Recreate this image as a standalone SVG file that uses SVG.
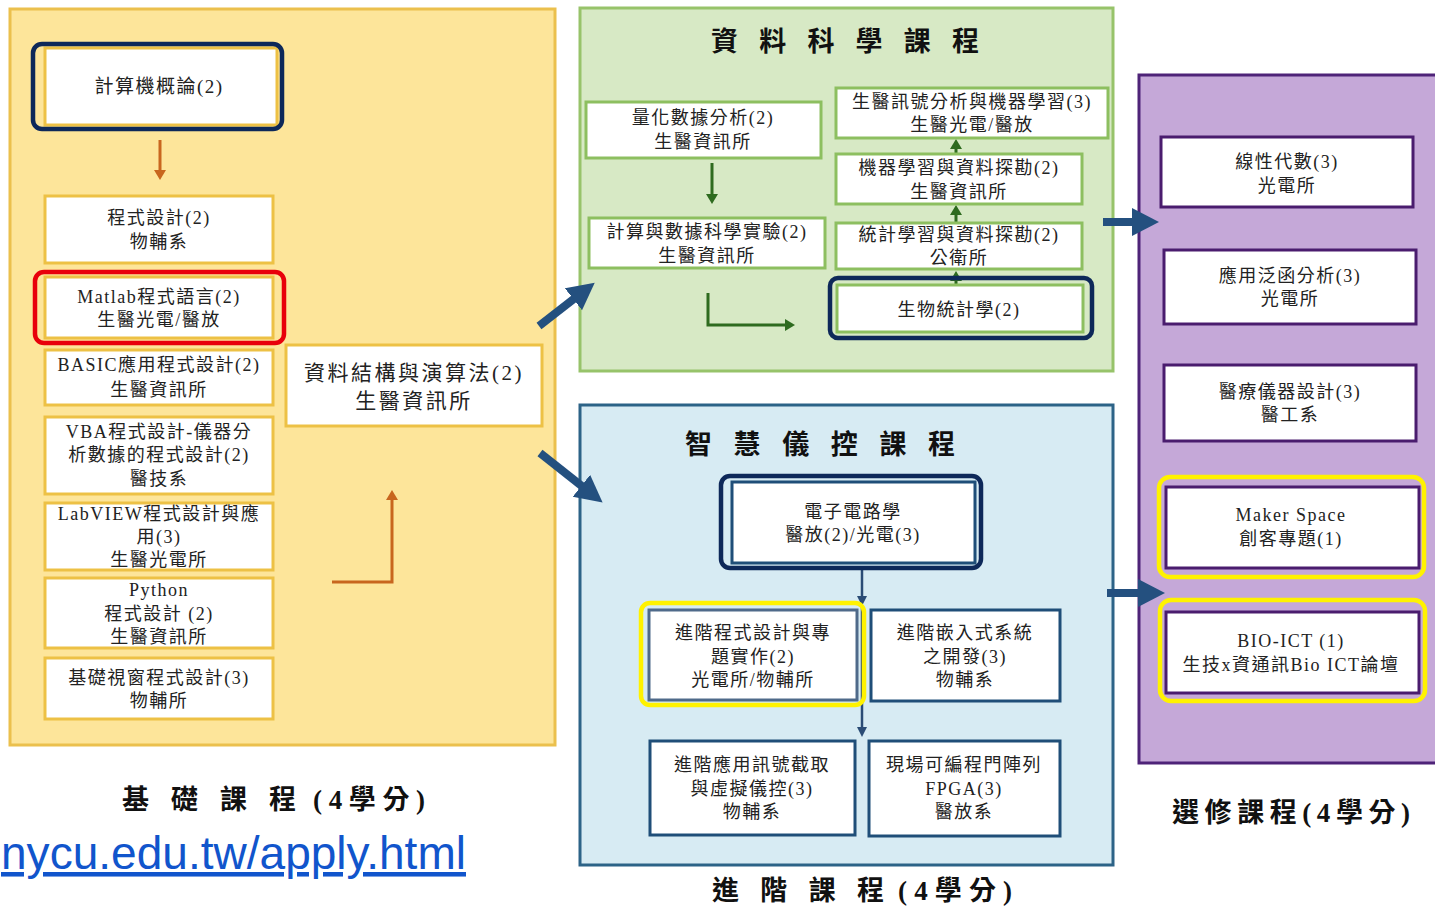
<svg xmlns="http://www.w3.org/2000/svg" width="1435" height="907" viewBox="0 0 1435 907">
<defs>
<style>
.t{font-family:"Liberation Serif","Noto Sans CJK TC",serif;font-size:18px;fill:#222;text-anchor:middle;dominant-baseline:central;letter-spacing:1.5px}
.t2{font-size:21px;letter-spacing:2.5px}
.title{font-family:"Liberation Serif","Noto Sans CJK TC",serif;font-size:27px;font-weight:bold;fill:#111;dominant-baseline:central}
.ny{fill:#fff;stroke:#EDC145;stroke-width:3}
.ng{fill:#fff;stroke:#8DBF60;stroke-width:3}
.nb{fill:#fff;stroke:#1F4E78;stroke-width:3}
.np{fill:#fff;stroke:#4A1C6E;stroke-width:3}
.hnavy{fill:none;stroke:#0D2859;stroke-width:4.5}
.hred{fill:none;stroke:#E8000B;stroke-width:4.5}
.hyel{fill:none;stroke:#FFF200;stroke-width:4.5}
.big{stroke:#24507F;stroke-width:8;fill:none}
.org{stroke:#C8661E;stroke-width:3;fill:none}
.grn{stroke:#2E6B1F;stroke-width:3;fill:none}
.nvy{stroke:#2B4C75;stroke-width:2.5;fill:none}
</style>
<marker id="mBig" markerUnits="userSpaceOnUse" markerWidth="30" markerHeight="30" refX="2" refY="14" orient="auto"><path d="M0,0 L27,14 L0,28 z" fill="#24507F"/></marker>
<marker id="mOrg" markerUnits="userSpaceOnUse" markerWidth="14" markerHeight="14" refX="1" refY="6" orient="auto"><path d="M0,0 L10,6 L0,12 z" fill="#C8661E"/></marker>
<marker id="mGrn" markerUnits="userSpaceOnUse" markerWidth="14" markerHeight="14" refX="1" refY="6" orient="auto"><path d="M0,0 L10,6 L0,12 z" fill="#2E6B1F"/></marker>
<marker id="mNvy" markerUnits="userSpaceOnUse" markerWidth="14" markerHeight="14" refX="1" refY="5" orient="auto"><path d="M0,0 L10,5 L0,10 z" fill="#2B4C75"/></marker>
</defs>
<rect width="1435" height="907" fill="#fff"/>

<!-- panels -->
<g id="panels">
<rect x="10" y="9" width="545" height="736" fill="#FDE59A" stroke="#EBC04D" stroke-width="3"/>
<rect x="580" y="8" width="533" height="363" fill="#D7E9C5" stroke="#97C36A" stroke-width="3"/>
<rect x="580" y="405" width="533" height="460" fill="#D7EBF3" stroke="#2C6387" stroke-width="3"/>
<rect x="1139" y="75" width="310" height="688" fill="#C5A8D8" stroke="#4E2378" stroke-width="3"/>
<text class="title" x="845" y="42" text-anchor="middle" textLength="268" lengthAdjust="spacing">資 料 科 學 課 程</text>
<text class="title" x="820" y="445" text-anchor="middle" textLength="270" lengthAdjust="spacing">智 慧 儀 控 課 程</text>
<text class="title" y="800"><tspan x="122" textLength="174" lengthAdjust="spacing">基 礎 課 程</tspan><tspan x="313" textLength="112" lengthAdjust="spacing">(4學分)</tspan></text>
<text class="title" y="891"><tspan x="712" textLength="172" lengthAdjust="spacing">進 階 課 程</tspan><tspan x="898" textLength="114" lengthAdjust="spacing">(4學分)</tspan></text>
<text class="title" x="1291" y="813" text-anchor="middle" textLength="238" lengthAdjust="spacing">選修課程(4學分)</text>
<text x="1" y="869" font-family="Liberation Sans, Arial, sans-serif" font-size="45.5" fill="#1155CC" text-decoration="underline" textLength="465" lengthAdjust="spacingAndGlyphs">nycu.edu.tw/apply.html</text>
</g>

<!-- connectors -->
<g id="connectors">
<path class="org" d="M160,140 V171" marker-end="url(#mOrg)"/>
<path class="org" d="M332,582 H392 V499" marker-end="url(#mOrg)"/>
<path class="grn" d="M712,163 V195" marker-end="url(#mGrn)"/>
<path class="grn" d="M708,293 V325 H786" marker-end="url(#mGrn)"/>
<path class="grn" d="M956,286 V280" marker-end="url(#mGrn)"/>
<path class="grn" d="M956,223 V214" marker-end="url(#mGrn)"/>
<path class="grn" d="M956,154 V148" marker-end="url(#mGrn)"/>
<path class="nvy" d="M862,567 V597" marker-end="url(#mNvy)"/>
<path class="nvy" d="M862,606 V728" marker-end="url(#mNvy)"/>
<path class="big" d="M539,326 L575,298" marker-end="url(#mBig)"/>
<path class="big" d="M540,453 L583,487" marker-end="url(#mBig)"/>
<path class="big" d="M1103,222 H1134" marker-end="url(#mBig)"/>
<path class="big" d="M1107,593 H1140" marker-end="url(#mBig)"/>
</g>

<!-- basic course nodes -->
<g id="n-computer">
<rect class="ny" x="45" y="48" width="232" height="77"/>
<rect class="hnavy" x="33" y="44" width="249" height="85" rx="9"/>
<text class="t" x="159" y="86" style="font-size:19px">計算機概論(2)</text>
</g>
<g id="n-prog">
<rect class="ny" x="45" y="196" width="228" height="67"/>
<text class="t" x="159" y="218">程式設計(2)</text>
<text class="t" x="159" y="242">物輔系</text>
</g>
<g id="n-matlab">
<rect class="ny" x="45" y="277" width="228" height="61"/>
<rect class="hred" x="35" y="272" width="249" height="71" rx="9"/>
<text class="t" x="159" y="297">Matlab程式語言(2)</text>
<text class="t" x="159" y="320">生醫光電/醫放</text>
</g>
<g id="n-basic">
<rect class="ny" x="45" y="350" width="228" height="55"/>
<text class="t" x="159" y="365">BASIC應用程式設計(2)</text>
<text class="t" x="159" y="390">生醫資訊所</text>
</g>
<g id="n-vba">
<rect class="ny" x="45" y="417" width="228" height="77"/>
<text class="t" x="159" y="432">VBA程式設計-儀器分</text>
<text class="t" x="159" y="455">析數據的程式設計(2)</text>
<text class="t" x="159" y="479">醫技系</text>
</g>
<g id="n-labview">
<rect class="ny" x="45" y="503" width="228" height="67"/>
<text class="t" x="159" y="514">LabVIEW程式設計與應</text>
<text class="t" x="159" y="537">用(3)</text>
<text class="t" x="159" y="560">生醫光電所</text>
</g>
<g id="n-python">
<rect class="ny" x="45" y="578" width="228" height="70"/>
<text class="t" x="159" y="590">Python</text>
<text class="t" x="159" y="614">程式設計 (2)</text>
<text class="t" x="159" y="637">生醫資訊所</text>
</g>
<g id="n-window">
<rect class="ny" x="45" y="658" width="228" height="61"/>
<text class="t" x="159" y="678">基礎視窗程式設計(3)</text>
<text class="t" x="159" y="701">物輔所</text>
</g>
<g id="n-ds">
<rect class="ny" x="286" y="345" width="256" height="81"/>
<text class="t t2" x="414" y="373">資料結構與演算法(2)</text>
<text class="t t2" x="414" y="401">生醫資訊所</text>
</g>

<!-- data science nodes -->
<g id="n-quant">
<rect class="ng" x="586" y="102" width="235" height="56"/>
<text class="t" x="703" y="118">量化數據分析(2)</text>
<text class="t" x="703" y="142">生醫資訊所</text>
</g>
<g id="n-compexp">
<rect class="ng" x="589" y="218" width="236" height="50"/>
<text class="t" x="707" y="232">計算與數據科學實驗(2)</text>
<text class="t" x="707" y="256">生醫資訊所</text>
</g>
<g id="n-signal">
<rect class="ng" x="836" y="88" width="272" height="50"/>
<text class="t" x="972" y="102">生醫訊號分析與機器學習(3)</text>
<text class="t" x="972" y="125">生醫光電/醫放</text>
</g>
<g id="n-ml">
<rect class="ng" x="836" y="154" width="246" height="50"/>
<text class="t" x="959" y="168">機器學習與資料探勘(2)</text>
<text class="t" x="959" y="192">生醫資訊所</text>
</g>
<g id="n-stat">
<rect class="ng" x="836" y="223" width="246" height="46"/>
<text class="t" x="959" y="235">統計學習與資料探勘(2)</text>
<text class="t" x="959" y="258">公衛所</text>
</g>
<g id="n-biostat">
<rect class="ng" x="837" y="285" width="246" height="47"/>
<rect class="hnavy" x="830" y="278" width="262" height="60" rx="8"/>
<text class="t" x="959" y="310">生物統計學(2)</text>
</g>

<!-- smart instrument nodes -->
<g id="n-circuit">
<rect class="nb" x="732" y="482" width="243" height="81"/>
<rect class="hnavy" x="721" y="476" width="260" height="92" rx="9"/>
<text class="t" x="853" y="512">電子電路學</text>
<text class="t" x="853" y="535">醫放(2)/光電(3)</text>
</g>
<g id="n-advprog">
<rect x="649" y="610" width="208" height="90" fill="#fff" stroke="#4F6A8A" stroke-width="3"/>
<rect class="hyel" x="641" y="603" width="223" height="102" rx="9"/>
<text class="t" x="753" y="633">進階程式設計與專</text>
<text class="t" x="753" y="657">題實作(2)</text>
<text class="t" x="753" y="680">光電所/物輔所</text>
</g>
<g id="n-embedded">
<rect class="nb" x="871" y="610" width="189" height="91"/>
<text class="t" x="965" y="633">進階嵌入式系統</text>
<text class="t" x="965" y="657">之開發(3)</text>
<text class="t" x="965" y="680">物輔系</text>
</g>
<g id="n-daq">
<rect class="nb" x="650" y="741" width="205" height="94"/>
<text class="t" x="752" y="765">進階應用訊號截取</text>
<text class="t" x="752" y="789">與虛擬儀控(3)</text>
<text class="t" x="752" y="812">物輔系</text>
</g>
<g id="n-fpga">
<rect class="nb" x="869" y="741" width="191" height="95"/>
<text class="t" x="964" y="765">現場可編程門陣列</text>
<text class="t" x="964" y="789">FPGA(3)</text>
<text class="t" x="964" y="812">醫放系</text>
</g>

<!-- electives -->
<g id="n-linalg">
<rect class="np" x="1161" y="137" width="252" height="70"/>
<text class="t" x="1287" y="162">線性代數(3)</text>
<text class="t" x="1287" y="186">光電所</text>
</g>
<g id="n-func">
<rect class="np" x="1164" y="250" width="252" height="74"/>
<text class="t" x="1290" y="276">應用泛函分析(3)</text>
<text class="t" x="1290" y="299">光電所</text>
</g>
<g id="n-medinst">
<rect class="np" x="1164" y="365" width="252" height="76"/>
<text class="t" x="1290" y="392">醫療儀器設計(3)</text>
<text class="t" x="1290" y="415">醫工系</text>
</g>
<g id="n-maker">
<rect class="np" x="1166" y="487" width="253" height="81"/>
<rect class="hyel" x="1159" y="477" width="265" height="100" rx="11"/>
<text class="t" x="1291" y="515">Maker Space</text>
<text class="t" x="1291" y="539">創客專題(1)</text>
</g>
<g id="n-bioict">
<rect class="np" x="1166" y="612" width="253" height="81"/>
<rect class="hyel" x="1160" y="600" width="265" height="101" rx="11"/>
<text class="t" x="1291" y="641">BIO-ICT (1)</text>
<text class="t" x="1291" y="665">生技x資通訊Bio ICT論壇</text>
</g>
</svg>
